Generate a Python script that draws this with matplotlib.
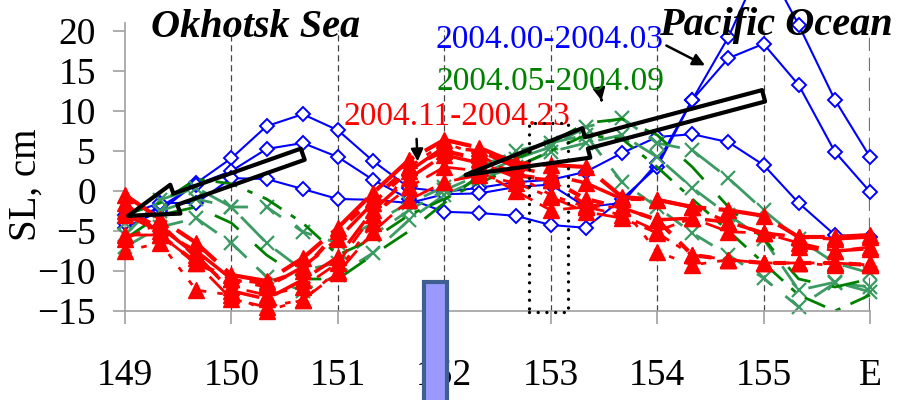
import numpy as np
import matplotlib.pyplot as plt
from matplotlib.patches import FancyArrowPatch, Rectangle

plt.rcParams['font.family'] = ['Liberation Serif', 'DejaVu Serif']

# longitude of the profile points (1/3 degree step)
lon = [149.0, 149.33, 149.67, 150.0, 150.33, 150.67, 151.0, 151.33, 151.67, 152.0, 152.33,
       152.67, 153.0, 153.33, 153.67, 154.0, 154.33, 154.67, 155.0, 155.33, 155.67, 156.0]

# 2004.00-2004.03 (blue)
blue1 = [-4.6, -2.5, 1.0, 4.1, 8.1, 9.6, 7.6, 3.75, 0.4, -0.1, 0.4, 1.1, 1.4, 2.4, 4.75, 6.75, 7.1, 6.1, 3.25, -1.5, -5.5, -5.8]
blue2 = [-4.0, -2.0, 0.8, 2.5, 5.25, 6.0, 4.25, 1.4, -1.0, -2.6, -2.75, -3.1, -4.25, -4.6, -1.0, 3.0, 11.4, 16.6, 18.4, 13.25, 4.9, -0.1]
blue3 = [-3.0, -1.5, -1.5, 1.6, 1.5, 0.25, -1.0, -1.1, -1.5, -0.4, -0.3, 0.5, 0.8, -2.0, -1.5, 3.5, 11.4, 19.25, 29.0, 20.75, 11.4, 4.25]

# 2004.05-2004.09 (green)
green1 = [-7.0, -4.5, -3.4, -6.5, -10.75, -12.5, -10.5, -7.75, -3.6, -0.5, 1.5, 3.0, 4.9, 6.0, 7.0, 4.25, 0.4, -3.0, -6.0, -12.4, -11.4, -12.6]
green2 = [-5.5, -1.1, 0.4, -2.0, -6.5, -9.9, -9.0, -5.5, -2.4, 0.1, 2.0, 4.0, 5.5, 8.0, 9.1, 6.0, 5.1, 1.6, -2.4, -6.0, -9.0, -10.25]
green3 = [-4.0, -2.5, -1.0, -2.0, -2.0, -5.1, -6.5, -4.0, -1.5, 0.5, 3.0, 5.0, 6.0, 7.0, 1.1, -2.0, -5.25, -8.0, -10.9, -14.5, -11.5, -12.0]
green4 = [-3.0, -1.5, 1.5, 0.9, -1.0, -4.0, -8.0, -6.0, -3.0, -1.0, 1.0, 3.0, 5.0, 7.0, 6.5, 3.0, -1.0, -5.0, -9.0, -13.0, -15.0, -13.0]
green5 = [-6.0, -3.0, -2.0, -4.0, -8.0, -11.0, -11.0, -8.0, -5.0, -1.5, 2.0, 4.0, 6.0, 8.5, 9.0, 7.0, 3.0, -2.0, -6.0, -11.0, -12.0, -11.0]

# 2004.11-2004.23 (red)
red1 = [-0.5, -3.5, -6.5, -10.5, -11.25, -8.4, -4.6, -0.25, 3.9, 6.4, 5.4, 3.5, 3.25, 3.0, -0.75, -1.1, -2.0, -2.4, -3.1, -5.75, -5.75, -5.5]
red2 = [-2.5, -4.5, -8.0, -12.5, -13.5, -11.1, -8.25, -2.4, 1.6, 4.5, 3.5, 1.75, 1.4, -1.75, -2.1, -3.6, -3.4, -3.9, -5.25, -7.0, -7.5, -7.2]
red3 = [-5.5, -5.5, -9.0, -13.5, -14.5, -13.6, -10.25, -5.1, -1.1, 1.1, 2.0, 1.0, -0.75, -2.6, -3.4, -5.25, -8.0, -8.6, -9.0, -9.0, -9.0, -9.25]
red4 = [-7.5, -6.5, -12.4, -13.0, -15.0, -13.6, -10.0, -4.0, 3.0, 6.0, 4.5, 2.0, -0.5, -2.0, -2.0, -7.6, -9.25, -8.6, -9.0, -9.0, -9.3, -9.0]
red5 = [-3.0, -5.0, -7.5, -11.0, -12.0, -9.5, -6.0, -1.5, 2.5, 5.5, 5.0, 3.0, 2.0, 1.0, -1.0, -1.1, -2.0, -3.9, -5.25, -5.75, -6.0, -5.75]
red6 = [-6.0, -4.0, -8.4, -12.0, -13.0, -12.0, -9.0, -3.0, 0.5, 3.0, 2.5, 0.0, -2.4, -2.0, -3.0, -5.0, -3.4, -5.1, -5.25, -6.5, -7.5, -7.0]
red7 = [-1.5, -5.5, -9.0, -11.0, -11.5, -10.0, -5.0, -1.0, 3.0, 5.0, 4.0, 2.0, 1.4, -1.0, -2.1, -3.6, -8.0, -8.6, -9.0, -9.0, -9.0, -9.25]

xticks = [149, 150, 151, 152, 153, 154, 155, 156]
xticklabels = ['149', '150', '151', '152', '153', '154', '155', 'E']
yticks = [-15, -10, -5, 0, 5, 10, 15, 20]

W, H = 908, 400
fig = plt.figure(figsize=(W / 100, H / 100), dpi=100)
ax = fig.add_axes([125 / W, 1 - 311 / H, 745 / W, 288 / H])
ax.set_xlim(149, 156)
ax.set_ylim(-15, 21)

# vertical dashed grid
for xv in xticks[1:-1]:
    ax.axvline(xv, ymax=0.975, color='#444444', lw=0.9, dashes=(5, 3), zorder=0.5)
ax.axvline(xticks[-1], ymax=0.975, color='#707070', lw=1.6, dashes=(6, 3), zorder=0.5)

# blue series
for s in [blue1, blue2, blue3]:
    ax.plot(lon, s, color='#0000ff', lw=1.5, marker='D', ms=7, mfc='white',
            mec='#0000ff', mew=1.4, clip_on=False, zorder=2)

# green series
green_styles = [
    dict(color='#3c9a63', dashes=(9, 5), marker='x', ms=10, mew=1.6),
    dict(color='#3c9a63', dashes=(12, 5), marker='x', ms=10, mew=1.6),
    dict(color='#3c9a63', dashes=(7, 6), marker='x', ms=10, mew=1.6),
    dict(color='#008000', dashes=(8, 4, 2, 4), marker=None),
    dict(color='#008000', dashes=(10, 8), marker=None),
]
for s, st in zip([green1, green2, green3, green4, green5], green_styles):
    ax.plot(lon, s, lw=2, clip_on=False, zorder=2.5, **st)

# red series
red_styles = [
    dict(lw=3.0, dashes=(12, 3)),
    dict(lw=2.5, dashes=(8, 5)),
    dict(lw=2.0, dashes=(10, 3, 2, 3)),
    dict(lw=2.0, dashes=(2, 4)),
    dict(lw=2.5, dashes=(14, 4, 3, 4)),
    dict(lw=2.0, dashes=(6, 3)),
    dict(lw=3.0, dashes=(3, 3)),
]
for s, st in zip([red1, red2, red3, red4, red5, red6, red7], red_styles):
    ax.plot(lon, s, color='#ff0000', marker='^', ms=11, mec='#ff0000', mfc='#ff0000',
            clip_on=False, zorder=3, **st)

# axes styling
for sp in ['top', 'right']:
    ax.spines[sp].set_visible(False)
for sp in ['left', 'bottom']:
    ax.spines[sp].set_color('#a0a0a0')
    ax.spines[sp].set_linewidth(1.2)
ax.set_xticks(xticks)
ax.set_xticklabels(xticklabels)
ax.set_yticks(yticks)
ax.tick_params(axis='y', direction='out', length=9, width=1.2, color='#a0a0a0',
               labelsize=27, pad=12)
ax.tick_params(axis='x', direction='out', length=9, width=1.2, color='#a0a0a0',
               labelsize=27, pad=25)
ax.set_ylabel('SL, cm', fontsize=28)
ax.yaxis.set_label_coords(-0.108, 0.44)

# region titles
fig.text(256 / W, 1 - 37 / H, 'Okhotsk Sea', fontsize=29,
         fontweight='bold', style='italic', ha='center', va='baseline')
fig.text(776 / W, 1 - 35 / H, 'Pacific Ocean', fontsize=29,
         fontweight='bold', style='italic', ha='center', va='baseline')

# period labels with pointers
ax.annotate('2004.00-2004.03', xy=(154.45, 15.7), xytext=(152.99, 17.9), fontsize=24,
            color='#0000ff', ha='center', va='baseline', annotation_clip=False,
            arrowprops=dict(arrowstyle='-|>', color='k', lw=1.8, mutation_scale=18,
                            shrinkA=0, shrinkB=0, relpos=(1.0, 0.35)))
ax.annotate('2004.05-2004.09', xy=(153.51, 9.1), xytext=(153.0, 12.6), fontsize=24,
            color='#008000', ha='center', va='baseline', annotation_clip=False,
            arrowprops=dict(arrowstyle='-|>', color='k', lw=1.8, mutation_scale=18,
                            shrinkA=0, shrinkB=13, relpos=(0.72, 0.0)))
ax.annotate('2004.11-2004.23', xy=(151.75, 3.7), xytext=(152.12, 8.25), fontsize=24,
            color='#ff0000', ha='center', va='baseline', annotation_clip=False,
            arrowprops=dict(arrowstyle='-|>', color='k', lw=1.8, mutation_scale=18,
                            shrinkA=3, shrinkB=0, relpos=(0.32, 0.0)))

# big hollow arrows
ax.add_patch(FancyArrowPatch((150.67, 4.6), (149.03, -3.1), arrowstyle='simple,head_length=3.6,head_width=2.2,tail_width=0.85',
                             mutation_scale=10, fill=False, ec='k', lw=3, zorder=5,
                             shrinkA=0, shrinkB=0, clip_on=False))
ax.add_patch(FancyArrowPatch((155.0, 11.9), (152.2, 2.0), arrowstyle='simple,head_length=9.0,head_width=2.2,tail_width=0.85',
                             mutation_scale=10, fill=False, ec='k', lw=3, zorder=5,
                             shrinkA=0, shrinkB=0, clip_on=False))

# dotted box
ax.add_patch(Rectangle((152.8, -15.1), 0.36, 23.6, fill=False, ec='k', lw=2.4,
                       ls=(0, (0.01, 2.6)), capstyle='round', zorder=5, clip_on=False))

# blue bar over the axis bottom
fig.add_artist(Rectangle((423.7 / W, -0.05), 23.6 / W, 0.05 + (400 - 282) / H,
                         transform=fig.transFigure, fc='#9999ff', ec='#3f5f8f', lw=3, zorder=10))

fig.savefig('out.png', dpi=100)
